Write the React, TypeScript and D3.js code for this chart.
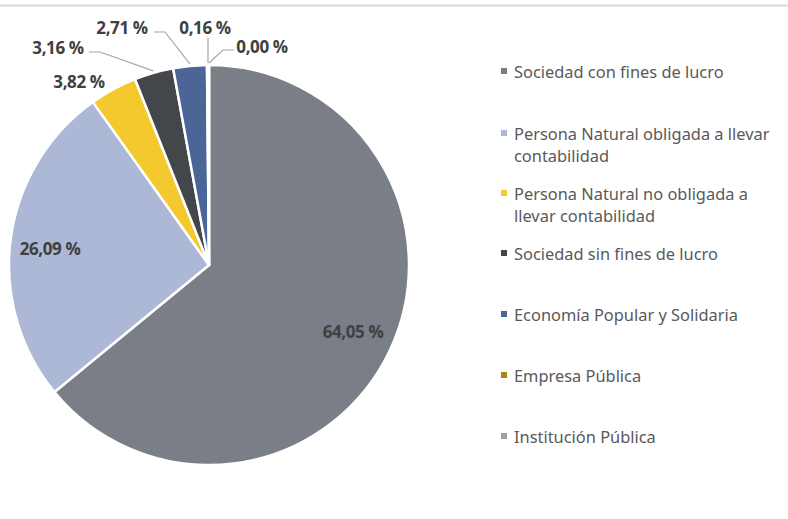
import React from "react";
import * as d3 from "d3";

const categories = [
  "Sociedad con fines de lucro",
  "Persona Natural obligada a llevar contabilidad",
  "Persona Natural no obligada a llevar contabilidad",
  "Sociedad sin fines de lucro",
  "Economía Popular y Solidaria",
  "Empresa Pública",
  "Institución Pública",
];
const values = [64.05, 26.09, 3.82, 3.16, 2.71, 0.16, 0.0];
const labels = ["64,05 %", "26,09 %", "3,82 %", "3,16 %", "2,71 %", "0,16 %", "0,00 %"];
const legendLines = [
  ["Sociedad con fines de lucro"],
  ["Persona Natural obligada a llevar", "contabilidad"],
  ["Persona Natural no obligada a", "llevar contabilidad"],
  ["Sociedad sin fines de lucro"],
  ["Economía Popular y Solidaria"],
  ["Empresa Pública"],
  ["Institución Pública"],
];
const colors = ["#797e87", "#adb8d6", "#f4c92d", "#43464b", "#4b6597", "#a98a0c", "#9da1a7"];

const W = 788;
const H = 519;
const cx = 209;
const cy = 265;
const R = 200;

const labelPos: Array<[number, number]> = [
  [353, 331],
  [50, 248],
  [79, 81],
  [58, 47],
  [122, 27],
  [205, 27],
  [262, 46],
];

export default function App() {
  const pie = d3.pie<number>().sort(null).value((d) => d)(values);
  const arc = d3.arc<d3.PieArcDatum<number>>().innerRadius(0).outerRadius(R);
  const arcOuter = d3.arc<d3.PieArcDatum<number>>().innerRadius(R + 2).outerRadius(R + 2);

  const leaders: Array<{ i: number; pts: Array<[number, number]> }> = [
    { i: 3, pts: [[89, 52], [100, 52]] },
    { i: 4, pts: [[154, 32], [165, 32]] },
    { i: 5, pts: [[208, 38], [208, 40]] },
    { i: 6, pts: [[234, 50], [223, 50]] },
  ];

  const legendY = [71, 133, 193, 253, 314, 375, 436];

  return (
    <svg width={W} height={H} style={{ position: "absolute", left: 0, top: 0, background: "#fff" }}>
      <line x1={0} x2={W} y1={5.5} y2={5.5} stroke="#d9d9d9" strokeWidth={2} />
      <g transform={`translate(${cx},${cy})`}>
        {pie.map((p, i) => (
          <path key={i} d={arc(p) || ""} fill={colors[i]} stroke="#fff" strokeWidth={2.5} strokeLinejoin="round" />
        ))}
      </g>
      {leaders.map((l, k) => {
        const p = pie[l.i];
        const [ex, ey] = arcOuter.centroid(p);
        const pts = [...l.pts, [ex + cx, ey + cy] as [number, number]];
        return (
          <polyline
            key={k}
            points={pts.map((q) => q.join(",")).join(" ")}
            fill="none"
            stroke="#a6a6a6"
            strokeWidth={1.2}
          />
        );
      })}
      {labels.map((t, i) => (
        <text
          key={i}
          x={labelPos[i][0]}
          y={labelPos[i][1]}
          textAnchor="middle"
          dominantBaseline="central"
          fontFamily="'Open Sans', 'Noto Sans', sans-serif"
          fontWeight={700}
          fontSize={17}
          letterSpacing={-0.4}
          fill="#404040"
        >
          {t}
        </text>
      ))}
      {categories.map((c, i) => (
        <g key={c}>
          <rect x={501} y={legendY[i] - 3} width={6} height={6} fill={colors[i]} />
          {legendLines[i].map((ln, j) => (
            <text
              key={j}
              x={514}
              y={legendY[i] + j * 22}
              dominantBaseline="central"
              fontFamily="'Noto Sans', sans-serif"
              fontSize={16.4}
              fill="#595959"
            >
              {ln}
            </text>
          ))}
        </g>
      ))}
    </svg>
  );
}
